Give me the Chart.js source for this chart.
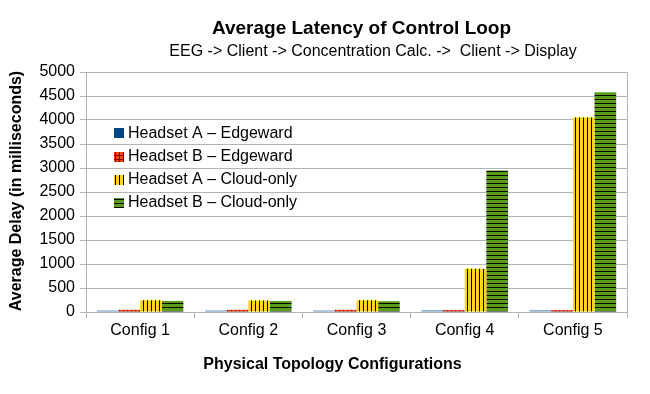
<!DOCTYPE html>
<html>
<head>
<meta charset="utf-8">
<script src="https://cdn.jsdelivr.net/npm/chart.js@4/dist/chart.umd.min.js"></script>
<style>
html,body{margin:0;padding:0;background:#fff;}
#wrap{width:650px;height:394px;}
</style>
</head>
<body>
<div id="wrap"><canvas id="c" width="650" height="394"></canvas></div>
<script>
const categories = ['Config 1', 'Config 2', 'Config 3', 'Config 4', 'Config 5'];
const seriesNames = ['Headset A \u2013 Edgeward', 'Headset B \u2013 Edgeward', 'Headset A \u2013 Cloud-only', 'Headset B \u2013 Cloud-only'];
const headsetAEdgeward = [30, 30, 30, 35, 35];
const headsetBEdgeward = [45, 45, 45, 40, 40];
const headsetACloud = [245, 240, 245, 900, 4050];
const headsetBCloud = [230, 230, 225, 2950, 4580];
const yTickMin = 0, yTickMax = 5000, yTickStep = 500;
const chartTitle = 'Average Latency of Control Loop';
const chartSubtitle = 'EEG -> Client -> Concentration Calc. ->  Client -> Display';
const xAxisTitle = 'Physical Topology Configurations';
const yAxisTitle = 'Average Delay (in milliseconds)';

const FONT = '"Liberation Sans", Arial, sans-serif';
const GRID = '#b3b3b3';

function makePattern(kind) {
  const t = document.createElement('canvas');
  t.width = 4; t.height = 4;
  const g = t.getContext('2d');
  if (kind === 'blue') { g.fillStyle = '#004586'; g.fillRect(0,0,4,4); }
  if (kind === 'red') {
    g.fillStyle = '#ff420e'; g.fillRect(0,0,4,4);
    g.fillStyle = '#7e0000'; g.fillRect(3,0,1,4); g.fillRect(0,3,4,1);
  }
  if (kind === 'yellow') {
    g.fillStyle = '#ffd320'; g.fillRect(0,0,4,4);
    g.fillStyle = '#000000'; g.fillRect(3,0,1,4);
  }
  if (kind === 'green') {
    g.fillStyle = '#579d1c'; g.fillRect(0,0,4,4);
    g.fillStyle = '#000000'; g.fillRect(0,3,4,1);
  }
  return g.createPattern(t, 'repeat');
}
const ctx0 = document.getElementById('c').getContext('2d');
const fills = [makePattern('blue'), makePattern('red'), makePattern('yellow'), makePattern('green')];
const barFills = ['#5f8ab8', fills[1], fills[2], fills[3]];
const values = [headsetAEdgeward, headsetBEdgeward, headsetACloud, headsetBCloud];

const textPlugin = {
  id: 'texts',
  afterDraw(chart) {
    const ctx = chart.ctx;
    const a = chart.chartArea;
    ctx.save();
    ctx.strokeStyle = GRID; ctx.lineWidth = 1;
    ctx.beginPath(); ctx.moveTo(Math.round(a.right) + 0.5, a.top); ctx.lineTo(Math.round(a.right) + 0.5, a.bottom); ctx.stroke();
    ctx.fillStyle = '#000';
    ctx.textAlign = 'center';
    ctx.textBaseline = 'alphabetic';
    ctx.font = 'bold 19px ' + FONT;
    ctx.fillText(chartTitle, 361.5, 33.5);
    ctx.font = '16px ' + FONT;
    ctx.fillText(chartSubtitle, 373, 56);
    ctx.font = 'bold 16px ' + FONT;
    ctx.fillText(xAxisTitle, 332.5, 369);
    ctx.save();
    ctx.translate(21, 191);
    ctx.rotate(-Math.PI / 2);
    ctx.fillText(yAxisTitle, 0, 0);
    ctx.restore();
    ctx.textAlign = 'left';
    ctx.textBaseline = 'middle';
    ctx.font = '16px ' + FONT;
    const ys = [133, 156.5, 179.5, 202.5];
    for (let i = 0; i < seriesNames.length; i++) {
      ctx.fillStyle = fills[i];
      ctx.fillRect(114, Math.round(ys[i]) - 5, 10, 10);
      ctx.fillStyle = '#000';
      ctx.fillText(seriesNames[i], 128, ys[i] + 0.5);
    }
    ctx.restore();
  }
};

new Chart(ctx0, {
  type: 'bar',
  data: {
    labels: categories,
    datasets: seriesNames.map((n, i) => ({
      label: n,
      data: values[i],
      backgroundColor: barFills[i],
      borderWidth: 0,
      categoryPercentage: 0.8,
      barPercentage: 1.0
    }))
  },
  options: {
    responsive: false,
    animation: false,
    layout: { padding: { left: 0, right: 23, top: 72, bottom: 0 } },
    plugins: { legend: { display: false }, title: { display: false }, tooltip: { enabled: false } },
    scales: {
      x: {
        offset: true,
        grid: { display: true, drawOnChartArea: false, offset: true, color: GRID, tickLength: 6, tickColor: GRID },
        border: { display: true, color: GRID },
        ticks: { color: '#000', font: { family: FONT, size: 16 }, padding: 3 },
        afterFit(s) { s.height = 82; }
      },
      y: {
        min: yTickMin, max: yTickMax,
        grid: { color: GRID, tickLength: 6, tickColor: GRID },
        border: { display: true, color: GRID },
        ticks: { stepSize: yTickStep, color: '#000', font: { family: FONT, size: 16 }, padding: 5, callback: v => String(v) },
        afterFit(s) { s.width = 86; }
      }
    }
  },
  plugins: [textPlugin]
});
</script>
</body>
</html>
